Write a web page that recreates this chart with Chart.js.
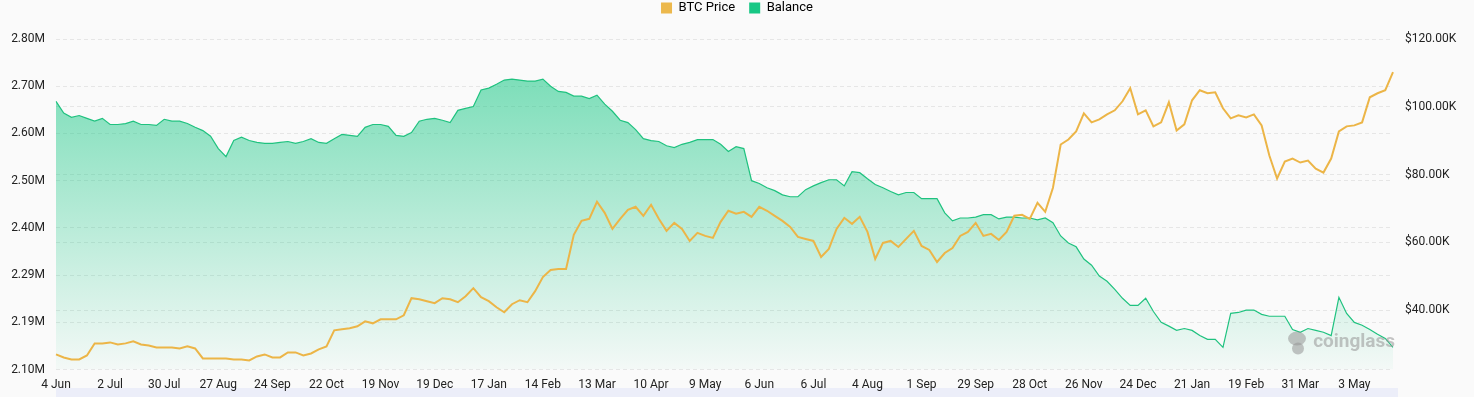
<!DOCTYPE html>
<html>
<head>
<meta charset="utf-8">
<script src="https://cdn.jsdelivr.net/npm/chart.js@4.4.1/dist/chart.umd.min.js"></script>
<style>
  html, body { margin: 0; padding: 0; background: #fafafa; }
  #wrap { width: 1474px; height: 397px; position: relative; }
</style>
</head>
<body>
<div id="wrap"><canvas id="c" width="1474" height="397"></canvas></div>
<script>
// ---- Data ----
const xTickLabels = ['4 Jun','2 Jul','30 Jul','27 Aug','24 Sep','22 Oct','19 Nov','19 Dec','17 Jan','14 Feb','13 Mar','10 Apr','9 May','6 Jun','6 Jul','4 Aug','1 Sep','29 Sep','28 Oct','26 Nov','24 Dec','21 Jan','19 Feb','31 Mar','3 May'];
const pointsPerTick = 7;

// Balance (millions)
const balance = [
  2.668,2.643,2.634,2.638,2.632,2.626,2.632,2.619,2.619,2.621,
  2.626,2.619,2.619,2.617,2.630,2.626,2.626,2.621,2.613,2.606,
  2.594,2.568,2.551,2.585,2.592,2.585,2.581,2.579,2.579,2.581,
  2.583,2.579,2.583,2.589,2.581,2.579,2.589,2.598,2.596,2.594,
  2.613,2.619,2.619,2.615,2.596,2.594,2.602,2.626,2.630,2.632,
  2.628,2.623,2.649,2.653,2.657,2.692,2.696,2.704,2.713,2.715,
  2.713,2.711,2.711,2.715,2.700,2.689,2.687,2.679,2.679,2.674,
  2.681,2.662,2.647,2.628,2.623,2.608,2.589,2.585,2.583,2.574,
  2.570,2.577,2.581,2.587,2.587,2.587,2.577,2.562,2.572,2.568,
  2.500,2.494,2.485,2.479,2.470,2.466,2.466,2.481,2.489,2.496,
  2.502,2.502,2.489,2.519,2.517,2.504,2.492,2.485,2.477,2.470,
  2.475,2.475,2.462,2.462,2.462,2.432,2.415,2.421,2.421,2.423,
  2.428,2.428,2.419,2.423,2.423,2.421,2.421,2.417,2.421,2.411,
  2.383,2.368,2.360,2.334,2.321,2.298,2.287,2.270,2.251,2.236,
  2.236,2.251,2.223,2.200,2.192,2.183,2.187,2.183,2.172,2.164,
  2.164,2.147,2.219,2.221,2.226,2.226,2.217,2.213,2.213,2.213,
  2.185,2.179,2.187,2.183,2.179,2.172,2.253,2.219,2.200,2.194,
  2.185,2.175,2.166,2.147
];

// BTC price (USD)
const btcPrice = [
  26970,26080,25480,25480,26670,30230,30230,30520,29930,30230,
  30820,29930,29630,29040,29040,29040,28740,29340,28740,25780,
  25780,25780,25780,25480,25480,25190,26370,26970,26080,26080,
  27560,27560,26670,27260,28450,29340,34080,34370,34670,35260,
  36740,36150,37340,37340,37340,38520,43560,43260,42670,42080,
  43560,43260,42370,44150,46520,43860,42670,40890,39410,41780,
  42970,42370,45630,49780,51860,52150,52150,62230,66370,66970,
  72000,68740,64000,66970,69630,70520,67860,71110,66970,63410,
  65780,64000,60450,62820,61930,61340,66080,69340,68450,69040,
  67560,70520,69340,67860,66370,64600,61630,61040,60450,55710,
  58080,64000,67260,65490,67560,63110,55110,59860,60450,58670,
  61040,63410,58970,57780,54230,56890,58370,61930,63110,65780,
  61930,62520,60740,63110,67860,68150,66970,71710,69040,76150,
  88890,90370,92740,98080,95410,96300,97780,98970,101630,105490,
  97780,98970,94230,95410,101340,93040,94820,101930,104890,104000,
  104300,99560,96600,97490,96890,97780,94520,85630,78820,83860,
  84740,83560,84150,81780,80600,84740,92740,94230,94520,95410,
  102820,104000,104890,110230
];

const balanceTickValues = [2.10,2.20,2.30,2.40,2.50,2.60,2.70,2.80];
const balanceTickLabels = ['2.10M','2.19M','2.29M','2.40M','2.50M','2.60M','2.70M','2.80M'];
const priceTickValues = [40000,60000,80000,100000,120000];

// categories: tick labels with unlabeled points between them
const categories = [];
xTickLabels.forEach(t => { categories.push(t); for (let k = 1; k < pointsPerTick; k++) categories.push(''); });
categories.length = balance.length;

// ---- Plugins ----
const LEGEND_PAD = 14;
const bgPlugin = {
  id: 'bg',
  beforeDraw(chart) {
    const { ctx, width, height, chartArea } = chart;
    ctx.save();
    ctx.fillStyle = '#fafafa';
    ctx.fillRect(0, 0, width, height);
    // slider strip
    ctx.fillStyle = '#eceef9';
    ctx.fillRect(chartArea.left, height - 9, chartArea.right - chartArea.left + 5, 9);
    ctx.restore();
  }
};
const legendTweak = {
  id: 'legendTweak',
  beforeInit(chart) {
    const lg = chart.legend;
    const origFit = lg.fit;
    lg.fit = function () { origFit.call(this); this.height = 39; };
    const origDraw = lg.draw;
    lg.draw = function () {
      const c = this.ctx;
      c.save();
      c.translate(0, -(LEGEND_PAD - 1.5));
      origDraw.call(this);
      c.restore();
    };
  }
};
const watermark = {
  id: 'watermark',
  afterDatasetsDraw(chart) {
    const { ctx, chartArea } = chart;
    ctx.save();
    ctx.fillStyle = 'rgba(150,150,150,0.55)';
    ctx.font = 'bold 19px Roboto, sans-serif';
    ctx.textAlign = 'right';
    ctx.textBaseline = 'middle';
    ctx.fillText('coinglass', chartArea.right + 2, chartArea.bottom - 27);
    const lx = chartArea.right - 96, ly = chartArea.bottom - 28;
    ctx.beginPath();
    ctx.ellipse(lx, ly - 3, 9, 7, 0, 0, Math.PI * 2);
    ctx.fill();
    ctx.beginPath();
    ctx.ellipse(lx + 1, ly + 7, 6, 6, 0, 0, Math.PI * 2);
    ctx.fill();
    ctx.restore();
  }
};

const ctx = document.getElementById('c').getContext('2d');
const grad = ctx.createLinearGradient(0, 39, 0, 368);
grad.addColorStop(0, 'rgba(22,199,132,0.62)');
grad.addColorStop(1, 'rgba(22,199,132,0.03)');

new Chart(ctx, {
  type: 'line',
  data: {
    labels: categories,
    datasets: [
      {
        label: 'BTC Price',
        data: btcPrice,
        yAxisID: 'yPrice',
        borderColor: '#ecb547',
        backgroundColor: '#ecb84c',
        borderWidth: 2,
        pointRadius: 0,
        tension: 0,
        fill: false
      },
      {
        label: 'Balance',
        data: balance,
        yAxisID: 'yBal',
        borderColor: '#1fc27f',
        backgroundColor: grad,
        borderWidth: 1.2,
        pointRadius: 0,
        tension: 0,
        fill: 'start'
      }
    ]
  },
  options: {
    responsive: false,
    animation: false,
    layout: { padding: { top: 0, bottom: 0, left: 0, right: 0 } },
    plugins: {
      legend: {
        display: true,
        position: 'top',
        labels: {
          boxWidth: 11,
          boxHeight: 11,
          padding: LEGEND_PAD,
          color: '#333',
          font: { family: 'Roboto, sans-serif', size: 13 },
          generateLabels(chart) {
            return chart.data.datasets.map((d, i) => ({
              text: d.label,
              fillStyle: i === 0 ? '#ecb84c' : '#17c784',
              strokeStyle: 'rgba(0,0,0,0)',
              lineWidth: 0,
              datasetIndex: i,
              hidden: false
            }));
          }
        }
      },
      tooltip: { enabled: false }
    },
    scales: {
      x: {
        offset: false,
        grid: { display: false, drawTicks: false },
        border: { display: false },
        afterFit(scale) { scale.height = 27.4; },
        ticks: {
          autoSkip: false,
          maxRotation: 0,
          minRotation: 0,
          padding: 8,
          color: '#222',
          font: { family: 'Roboto, sans-serif', size: 12 },
          callback(v, i) { return categories[i]; }
        }
      },
      yBal: {
        position: 'left',
        min: 2.10,
        max: 2.80,
        afterBuildTicks(scale) { scale.ticks = balanceTickValues.map(v => ({ value: v })); },
        afterFit(scale) { scale.width = 56; },
        grid: { color: '#e6e6e6', drawTicks: false },
        border: { display: false, dash: [4, 3] },
        ticks: {
          padding: 11,
          color: '#222',
          font: { family: 'Roboto, sans-serif', size: 12 },
          callback(v, i) { return balanceTickLabels[i]; }
        }
      },
      yPrice: {
        position: 'right',
        min: 22500,
        max: 120000,
        afterBuildTicks(scale) { scale.ticks = priceTickValues.map(v => ({ value: v })); },
        afterFit(scale) { scale.width = 81; },
        grid: { color: '#e6e6e6', drawTicks: false },
        border: { display: false, dash: [4, 3] },
        ticks: {
          padding: 12,
          color: '#222',
          font: { family: 'Roboto, sans-serif', size: 12 },
          callback(v) { return '$' + (v / 1000).toFixed(2) + 'K'; }
        }
      }
    }
  },
  plugins: [bgPlugin, legendTweak, watermark]
});
</script>
</body>
</html>
